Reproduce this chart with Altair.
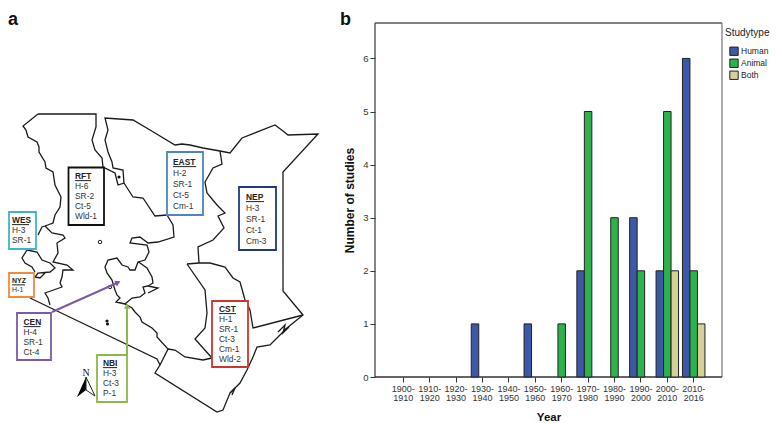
import altair as alt
import pandas as pd

FONT = "Liberation Sans"
W, H = 762, 415

# ---- panel b data ----
decades = ["1900-1910", "1910-1920", "1920-1930", "1930-1940", "1940-1950", "1950-1960",
           "1960-1970", "1970-1980", "1980-1990", "1990-2000", "2000-2010", "2010-2016"]
study_types = ["Human", "Animal", "Both"]
study_colors = ["#3c59a8", "#2db34b", "#d7cf98"]
bar_decade = ["1930-1940", "1950-1960", "1960-1970", "1970-1980", "1970-1980", "1980-1990",
              "1990-2000", "1990-2000", "2000-2010", "2000-2010", "2000-2010",
              "2010-2016", "2010-2016", "2010-2016"]
bar_type = ["Human", "Human", "Animal", "Human", "Animal", "Animal",
            "Human", "Animal", "Human", "Animal", "Both",
            "Human", "Animal", "Both"]
bar_count = [1, 1, 1, 2, 5, 3, 3, 2, 2, 5, 2, 6, 2, 1]

# ---- panel a data: map outlines, in picture coordinates ----
outer_border = [(38,114),(96,114),(96,127),(92,140),(95,150),(102,158),(103,167),(115,173),(118,185),(124,183),
                (123,170),(113,168),(112,162),(108,152),(105,140),(108,130),(105,118),(133,120),(150,130),(175,145),
                (182,144),(190,145),(203,148),(220,151),(230,153),(242,138),(275,125),(283,131),(288,135),(318,134),
                (283,172),(283,291),(303,315),(287,328),(278,337),(270,345),(257,347),(253,357),(247,370),(240,383),
                (230,393),(223,410),(217,412),(155,373),(160,365),(157,359),(30,298)]
west_border = [(38,114),(23,126),(26,130),(28,137),(37,142),(39,147),(39,152),(45,162),(46,168),(53,172),
               (55,185),(61,197),(60,207),(55,215),(53,223),(45,226),(42,227),(38,235)]
east_link = [(124,183),(133,197),(143,198),(155,216),(167,215)]
central = [(167,215),(173,225),(174,237),(158,242),(148,243),(140,237),(132,238),(130,243),(147,245),(149,252),
           (145,260),(138,262),(135,270),(130,270),(128,267),(122,265),(117,258),(108,260),(105,267),(107,273),
           (112,280),(115,290),(117,295),(120,298),(116,302),(125,304),(132,298),(140,297),(145,293),(143,287),
           (148,286),(153,283),(152,277),(147,268),(140,263),(138,262)]
south_link = [(125,304),(132,308),(135,312),(140,317),(142,322),(152,328),(157,333),(157,337),(168,349),(160,365)]
cst_north = [(168,349),(175,350),(185,357),(203,360),(212,358)]
nep_west = [(220,151),(222,164),(213,168),(205,182),(207,193),(217,205),(225,213),(218,216),(224,228),(213,240),
            (198,247),(199,263)]
cst_top = [(187,264),(199,263),(210,263),(225,267),(233,278),(240,282),(245,300),(250,310),(253,328),(303,315)]
cst_west = [(187,264),(205,290),(207,313),(205,328),(195,339),(212,358)]
west_inner = [(45,226),(52,233),(63,235),(65,238),(57,243),(58,253),(53,262),(67,265),(73,270),(63,270),
              (62,277),(60,283),(62,287),(45,293),(48,298),(50,305)]
lake_a = [(27,250),(22,258),(25,263),(32,267),(35,272)]
lake_b = [(27,250),(37,252),(42,260),(50,263),(55,268),(50,272),(38,273),(35,277),(40,278),(45,273)]
marks_a = [(148,293),(158,288),(148,286)]
marks_b = [(278,332),(285,325),(283,333),(289,327),(284,330)]
marks_c = [(230,393),(235,388),(232,395),(234,390)]
map_lines = [outer_border, west_border, east_link, central, south_link, cst_north, nep_west,
             cst_top, cst_west, west_inner, lake_a, lake_b, marks_a, marks_b, marks_c]

# region boxes: name, left, right, top, bottom, colour
box_name = ["RFT", "WES", "EAST", "NEP", "NYZ", "CEN", "NBI", "CST"]
box_left = [68.5, 9, 167, 239, 9, 17, 97, 212]
box_right = [104, 36, 203, 276, 34, 51, 127, 248]
box_top = [167.5, 212, 152, 187, 273, 313, 355, 301]
box_bottom = [225, 249, 215, 250, 297, 360, 402, 367]
box_color = ["#111111", "#3fb5c9", "#4a86c5", "#1f3a7a", "#f08a3c", "#7a5aa6", "#8ab94c", "#cf352e"]

# region text: head position, rows
text_x = [75, 12, 173, 246, 12, 23.5, 103, 219]
text_y = [176, 220, 162, 197, 281, 322, 363, 309]
text_step = [10, 10, 11, 11, 8.5, 10, 10, 9.9]
text_size = [8.4, 8.4, 8.4, 8.4, 7, 8.4, 8.4, 8.4]
head_width = [16, 17, 23, 18, 13, 17, 14, 17]
text_rows = [["H-6", "SR-2", "Ct-5", "Wld-1"], ["H-3", "SR-1"], ["H-2", "SR-1", "Ct-5", "Cm-1"],
             ["H-3", "SR-1", "Ct-1", "Cm-3"], ["H-1"], ["H-4", "SR-1", "Ct-4"], ["H-3", "Ct-3", "P-1"],
             ["H-1", "SR-1", "Ct-3", "Cm-1", "Wld-2"]]

# arrows: start, tip, colour, heading
arrow_x = [52, 127]
arrow_y = [312, 355]
arrow_x2 = [117, 127]
arrow_y2 = [283, 306]
arrow_tip_x = [118, 127]
arrow_tip_y = [282.5, 306]
arrow_angle = [65, 0]
arrow_color = ["#7a5aa6", "#8ab94c"]

north_left_x = [77, 86]
north_left_top = [397, 377]
north_left_bottom = [397, 390]
north_right = [(86,377),(95,396),(86,390),(86,377)]

blob_x = [119, 107, 107.5]
blob_y = [177, 321, 324]
hollow_x = [100, 110]
hollow_y = [242, 287]

# plot frame: x, x2, y, y2, colour, width
frame_x = [375, 722, 375, 375]
frame_x2 = [722, 722, 375, 722]
frame_y = [23, 23, 23, 377]
frame_y2 = [23, 377, 377, 377]
frame_color = ["#808080", "#808080", "#444444", "#333333"]
frame_width = [1.8, 1.3, 1.3, 1.3]

# ---- scales that map picture coordinates to the canvas ----
def px(field, **kw):
    return alt.X(field, type="quantitative", axis=None,
                 scale=alt.Scale(domain=[8, 8 + W], range=[0, W], nice=False, zero=False), **kw)

def py(field, **kw):
    return alt.Y(field, type="quantitative", axis=None,
                 scale=alt.Scale(domain=[8, 8 + H], range=[0, H], nice=False, zero=False), **kw)

layers = []

# map lines
rows = []
for i, line in enumerate(map_lines):
    for j, (x, y) in enumerate(line):
        rows.append({"x": x, "y": y, "seg": i, "o": j})
layers.append(alt.Chart(pd.DataFrame(rows)).mark_line(color="#1a1a1a", strokeWidth=1.3, interpolate="linear", clip=False)
              .encode(x=px("x"), y=py("y"), detail="seg:N", order="o:Q"))

layers.append(alt.Chart(pd.DataFrame({"x": blob_x, "y": blob_y})).mark_point(filled=True, color="#111111", size=10, opacity=1)
              .encode(x=px("x"), y=py("y")))
layers.append(alt.Chart(pd.DataFrame({"x": hollow_x, "y": hollow_y})).mark_point(color="#222222", size=12, strokeWidth=1, opacity=1)
              .encode(x=px("x"), y=py("y")))

# region boxes
boxes = pd.DataFrame({"n": box_name, "l": box_left, "r": box_right, "t": box_top, "b": box_bottom, "c": box_color})
layers.append(alt.Chart(boxes).mark_rect(fill="white", strokeWidth=1.8, strokeOpacity=1)
              .encode(x=px("l"), x2="r:Q", y=py("t"), y2="b:Q", stroke=alt.Stroke("c:N", scale=None)))

# arrows above boxes
arrows = pd.DataFrame({"x": arrow_x, "y": arrow_y, "x2": arrow_x2, "y2": arrow_y2, "c": arrow_color,
                       "tx": arrow_tip_x, "ty": arrow_tip_y, "a": arrow_angle})
layers.append(alt.Chart(arrows).mark_rule(strokeWidth=2)
              .encode(x=px("x"), x2="x2:Q", y=py("y"), y2="y2:Q", color=alt.Color("c:N", scale=None)))
layers.append(alt.Chart(arrows).mark_point(shape="triangle-up", filled=True, size=38, opacity=1)
              .encode(x=px("tx"), y=py("ty"), angle=alt.Angle("a:Q", scale=None), color=alt.Color("c:N", scale=None)))

# region text
heads, body, under = [], [], []
for n, x, y, st, sz, w, tr in zip(box_name, text_x, text_y, text_step, text_size, head_width, text_rows):
    heads.append({"t": n, "x": x, "y": y, "s": sz})
    under.append({"x": x, "x2": x + w, "y": y + sz * 0.55})
    for k, r in enumerate(tr):
        body.append({"t": r, "x": x, "y": y + st * (k + 1), "s": sz})
layers.append(alt.Chart(pd.DataFrame(heads)).mark_text(font=FONT, fontWeight="bold", align="left", baseline="middle", color="#222222")
              .encode(x=px("x"), y=py("y"), text="t:N", size=alt.Size("s:Q", scale=None)))
layers.append(alt.Chart(pd.DataFrame(under)).mark_rule(color="#222222", strokeWidth=1)
              .encode(x=px("x"), x2="x2:Q", y=py("y")))
layers.append(alt.Chart(pd.DataFrame(body)).mark_text(font=FONT, align="left", baseline="middle", color="#333333")
              .encode(x=px("x"), y=py("y"), text="t:N", size=alt.Size("s:Q", scale=None)))

# north arrow
nl = pd.DataFrame({"x": north_left_x, "y": north_left_top, "y2": north_left_bottom})
layers.append(alt.Chart(nl).mark_area(color="#000000", opacity=1).encode(x=px("x"), y=py("y"), y2="y2:Q"))
nr = pd.DataFrame([{"x": a, "y": b, "o": i} for i, (a, b) in enumerate(north_right)])
layers.append(alt.Chart(nr).mark_line(color="#222222", strokeWidth=1).encode(x=px("x"), y=py("y"), order="o:Q"))
letters = pd.DataFrame({"t": ["N", "a", "b"], "x": [86, 8, 340], "y": [376, 25, 25], "s": [10, 18, 18]})
layers.append(alt.Chart(letters[letters.t == "N"]).mark_text(font="Liberation Serif", color="#111111", align="center", baseline="alphabetic")
              .encode(x=px("x"), y=py("y"), text="t:N", size=alt.Size("s:Q", scale=None)))
layers.append(alt.Chart(letters[letters.t != "N"]).mark_text(font=FONT, fontWeight="bold", color="#111111", align="left", baseline="alphabetic")
              .encode(x=px("x"), y=py("y"), text="t:N", size=alt.Size("s:Q", scale=None)))

# plot frame
frame = pd.DataFrame({"x": frame_x, "x2": frame_x2, "y": frame_y, "y2": frame_y2, "c": frame_color, "w": frame_width})
layers.append(alt.Chart(frame).mark_rule()
              .encode(x=px("x"), x2="x2:Q", y=py("y"), y2="y2:Q", color=alt.Color("c:N", scale=None),
                      strokeWidth=alt.StrokeWidth("w:Q", scale=None)))

# bars with the chart's real axes and legend
bars_df = pd.DataFrame({"Year": bar_decade, "Studytype": bar_type, "n": bar_count})
bars = alt.Chart(bars_df).mark_bar(stroke="#222222", strokeWidth=1, size=7.5).encode(
    x=alt.X("Year:N", sort=decades,
            scale=alt.Scale(domain=decades, range=[367, 714], paddingInner=0.148, paddingOuter=0.646),
            axis=alt.Axis(title="Year", offset=-(H - 369), labelAngle=0, domain=False, tickColor="#333333", tickSize=5,
                          labelExpr="[slice(datum.label,0,5), slice(datum.label,5)]",
                          labelFont=FONT, labelFontSize=9, labelColor="#333333", labelLineHeight=9,
                          labelPadding=2, labelOverlap=False, labelLimit=60,
                          titleFont=FONT, titleFontSize=11.5, titleFontWeight="bold", titleColor="#111111", titlePadding=9.5)),
    xOffset=alt.XOffset("Studytype:N", sort=study_types, scale=alt.Scale(domain=study_types)),
    y=alt.Y("n:Q", scale=alt.Scale(domain=[0, 6.667], range=[369, 15], nice=False),
            axis=alt.Axis(title="Number of studies", offset=-367, values=[0, 1, 2, 3, 4, 5, 6], format="d",
                          grid=False, domain=False, tickColor="#333333", tickSize=5,
                          labelFont=FONT, labelFontSize=9.5, labelColor="#333333", labelPadding=2,
                          titleFont=FONT, titleFontSize=12, titleFontWeight="bold", titleColor="#111111", titlePadding=6.5)),
    color=alt.Color("Studytype:N", sort=study_types,
                    scale=alt.Scale(domain=study_types, range=study_colors),
                    legend=alt.Legend(title="Studytype", orient="none", legendX=717, legendY=20,
                                      titleFont=FONT, titleFontSize=10, titleFontWeight="normal", titleColor="#222222",
                                      titlePadding=7.5,
                                      labelFont=FONT, labelFontSize=8.5, labelColor="#222222", labelOffset=2,
                                      symbolOffset=4, symbolType="square", symbolSize=70,
                                      symbolStrokeColor="#222222", symbolStrokeWidth=1,
                                      clipHeight=11.5, rowPadding=0)),
)
layers.append(bars)

chart = alt.layer(*layers).resolve_scale(
    x="independent", y="independent", color="independent", size="independent", stroke="independent", angle="independent", strokeWidth="independent"
).resolve_axis(x="independent", y="independent").resolve_legend(color="independent").properties(
    width=W, height=H, padding=0, autosize=alt.AutoSizeParams(type="none")
).configure_view(stroke=None).configure_axis(grid=False)

chart.save("out.html", embed_options={"renderer": "svg", "actions": False})
